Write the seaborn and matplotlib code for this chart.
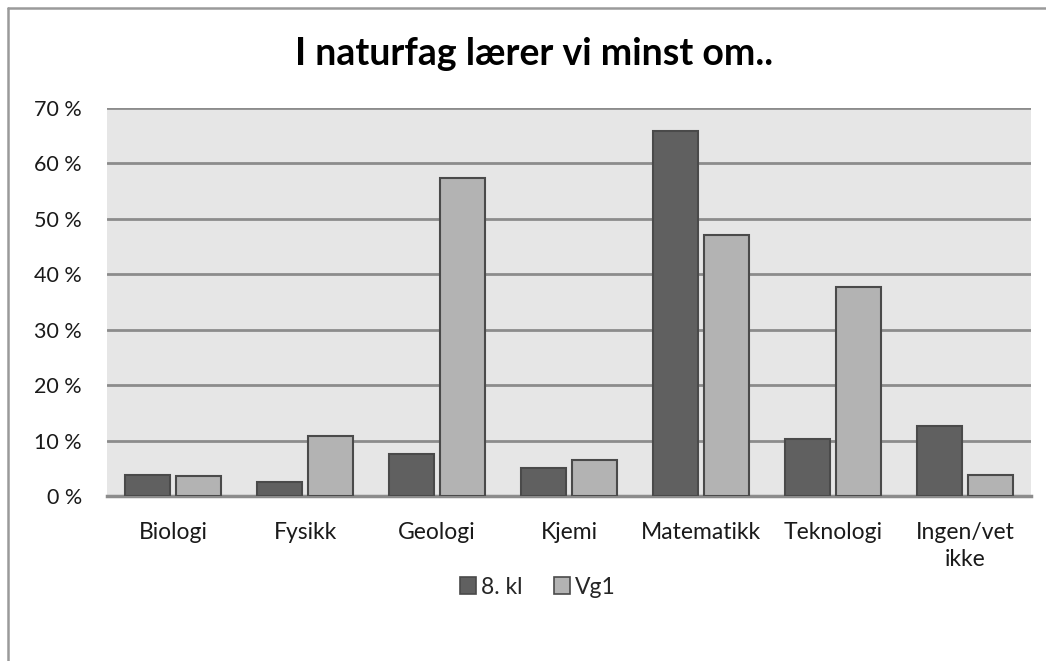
import matplotlib
matplotlib.use("Agg")
import matplotlib.pyplot as plt
import seaborn as sns
import pandas as pd
from matplotlib.ticker import FuncFormatter, MultipleLocator
from matplotlib.lines import Line2D
from matplotlib.patches import Patch

categories = ["Biologi", "Fysikk", "Geologi", "Kjemi", "Matematikk", "Teknologi", "Ingen/vet\nikke"]
series_names = ["8. kl", "Vg1"]
kl8 = [3.8, 2.6, 7.6, 5.1, 65.9, 10.2, 12.7]
vg1 = [3.6, 10.9, 57.3, 6.5, 47.1, 37.7, 3.7]
title = "I naturfag lærer vi minst om.."

df = pd.DataFrame({
    "Fag": categories * 2,
    "Serie": [series_names[0]] * len(categories) + [series_names[1]] * len(categories),
    "Verdi": kl8 + vg1,
})

sns.set_theme(style="white")
plt.rcParams["font.family"] = ["Lato", "DejaVu Sans"]

fig = plt.figure(figsize=(10.46, 6.61), dpi=100)
ax = fig.add_axes([107 / 1046, 1 - 496 / 661, (1031 - 107) / 1046, (496 - 108) / 661])

palette = {"8. kl": "#606060", "Vg1": "#b3b3b3"}
sns.barplot(data=df, x="Fag", y="Verdi", hue="Serie", palette=palette, ax=ax,
            width=0.758, gap=0.1, edgecolor="#4a4a4a", linewidth=1.5,
            saturation=1, legend=False, zorder=3)

ax.set_facecolor("#e6e6e6")
ax.set_ylim(0, 70)
ax.set_xlim(-0.5, len(categories) - 0.5)
ax.yaxis.set_major_locator(MultipleLocator(10))
ax.yaxis.set_major_formatter(FuncFormatter(lambda v, p: f"{int(v)} %"))
ax.grid(axis="y", color="#8c8c8c", linewidth=2, zorder=1)
ax.set_axisbelow(True)
for s in ["top", "right", "left"]:
    ax.spines[s].set_visible(False)
ax.spines["bottom"].set_color("#8c8c8c")
ax.spines["bottom"].set_linewidth(2.5)
ax.tick_params(axis="y", length=0, pad=18, labelsize=15.5, labelcolor="#1a1a1a")
ax.tick_params(axis="x", length=0, pad=19, labelsize=16.5, labelcolor="#1a1a1a")
for lbl in ax.get_xticklabels():
    lbl.set_linespacing(1.35)
ax.set_xlabel("")
ax.set_ylabel("")

fig.text(534 / 1046, 1 - 54 / 661, title, ha="center", va="center",
         fontsize=27, fontweight="bold", color="#000000")

handles = [Patch(facecolor=palette[n], edgecolor="#4a4a4a", linewidth=1.2) for n in series_names]
fig.legend(handles, series_names, loc="center", bbox_to_anchor=(538 / 1046, 1 - 587 / 661),
           ncol=2, frameon=False, fontsize=16.5, handlelength=0.7, handleheight=0.7,
           handletextpad=0.2, columnspacing=1.4, borderpad=0)

fig.add_artist(Line2D([8 / 1046, 8 / 1046], [0, 1 - 8 / 661], transform=fig.transFigure,
                      color="#9a9a9a", linewidth=1.8))
fig.add_artist(Line2D([8 / 1046, 1], [1 - 8 / 661, 1 - 8 / 661], transform=fig.transFigure,
                      color="#9a9a9a", linewidth=1.8))

fig.savefig("out.png", dpi=100, facecolor="white")
